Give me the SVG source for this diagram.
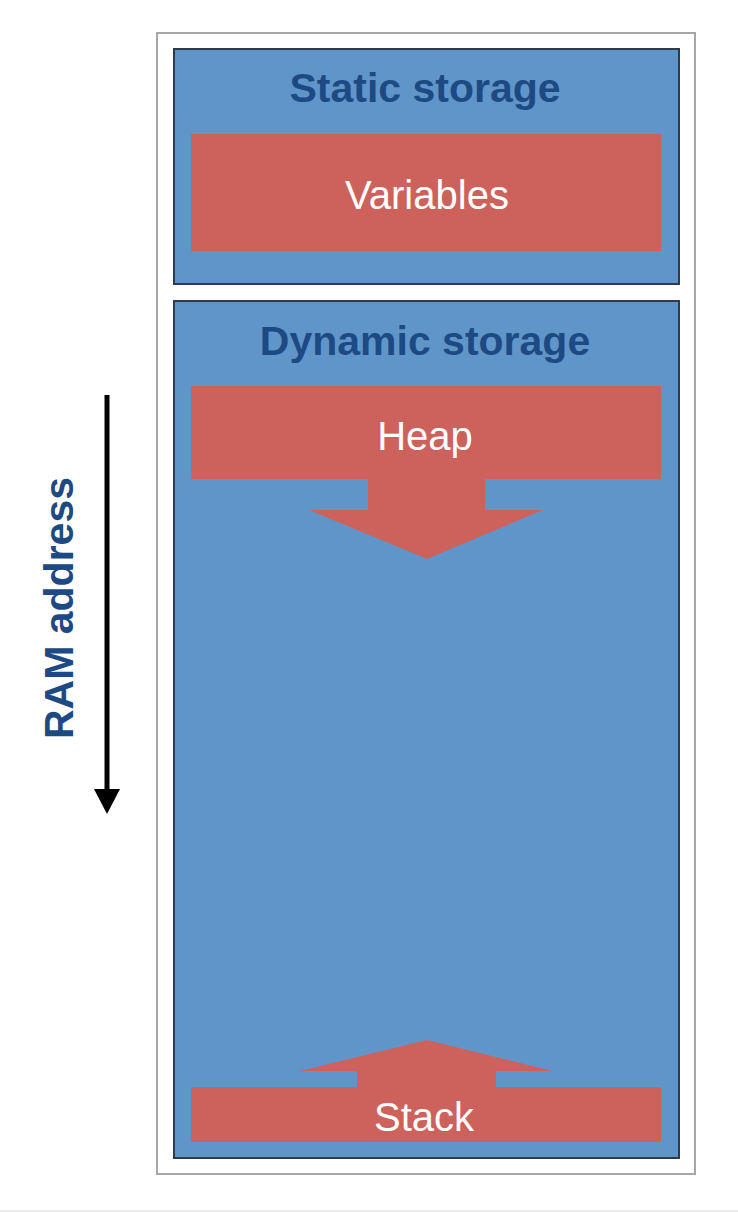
<svg xmlns="http://www.w3.org/2000/svg" width="738" height="1212" viewBox="0 0 738 1212">
<style>
.box{fill:#6095c9;stroke:#2e3b4b;stroke-width:2}
.red{fill:#cd625d}
.title{font-family:"Liberation Sans",Arial,sans-serif;font-weight:bold;font-size:41px;fill:#1e4a84;text-anchor:middle}
.lbl{font-family:"Liberation Sans",Arial,sans-serif;font-size:40px;fill:#ffffff;text-anchor:middle}
</style>
<rect x="0" y="0" width="738" height="1212" fill="#ffffff"/>
<rect x="0" y="1210" width="738" height="2" fill="#ececec"/>
<g id="memory">
<rect x="157" y="33" width="538" height="1141" fill="#ffffff" stroke="#a6a6a6" stroke-width="2"/>
</g>
<g id="static">
<rect class="box" x="174" y="49" width="505" height="235"/>
<text class="title" x="425" y="102">Static storage</text>
</g>
<g id="variables">
<rect class="red" x="191" y="134" width="470" height="117"/>
<text class="lbl" x="427" y="209">Variables</text>
</g>
<g id="dynamic">
<rect class="box" x="174" y="301" width="505" height="857"/>
<text class="title" x="425" y="355">Dynamic storage</text>
</g>
<g id="heap">
<rect class="red" x="191" y="386" width="470" height="93"/>
<polygon class="red" points="368,478 485,478 485,510 543,510 427,559 309,510 368,510"/>
<text class="lbl" x="425" y="450">Heap</text>
</g>
<g id="stack">
<polygon class="red" points="427,1040 552,1071 496,1071 496,1088 357,1088 357,1071 300,1071"/>
<rect class="red" x="191" y="1087" width="470" height="55"/>
<text class="lbl" x="424" y="1131">Stack</text>
</g>
<g id="connectors">
<line x1="107" y1="395" x2="107" y2="792" stroke="#000" stroke-width="5"/>
<polygon points="94,789 120,789 107,814" fill="#000"/>
</g>
<g id="ram-label">
<text class="title" x="0" y="0" transform="translate(73,608) rotate(-90)">RAM address</text>
</g>
</svg>
